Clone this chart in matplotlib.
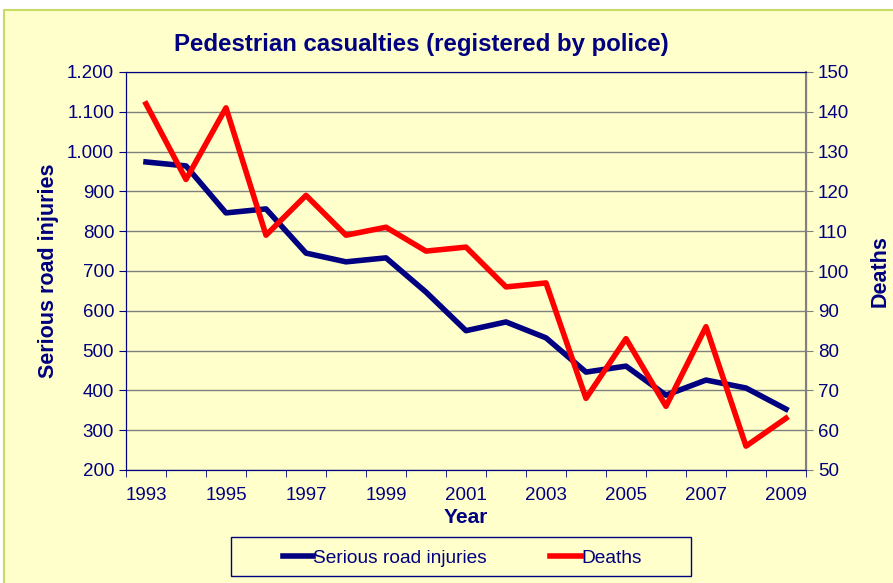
import matplotlib.pyplot as plt
import matplotlib.patches as patches
from matplotlib.ticker import FuncFormatter, FixedLocator

years = list(range(1993, 2010))
injuries = [974, 964, 846, 856, 745, 723, 733, 647, 550, 572, 532, 446, 461, 388, 426, 406, 353]
deaths = [142, 123, 141, 109, 119, 109, 111, 105, 106, 96, 97, 68, 83, 66, 86, 56, 63]

navy = "#000080"
bg = "#FFFFCC"
plt.rcParams['font.family'] = ['Liberation Sans', 'DejaVu Sans']

fig = plt.figure(figsize=(8.93, 5.83), dpi=100)
fig.patch.set_facecolor("white")
# chart area frame
fig.patches.append(patches.Rectangle((4 / 893, -0.01), 1.0, 1 - 10 / 583 + 0.01,
                                     transform=fig.transFigure, facecolor=bg,
                                     edgecolor="#C8DC64", linewidth=1.5, zorder=-10))
# legend frame
fig.patches.append(patches.Rectangle((231 / 893, 1 - 576 / 583), 460 / 893, 39 / 583,
                                     transform=fig.transFigure, facecolor=bg,
                                     edgecolor=navy, linewidth=1, zorder=-5))

ax = fig.add_axes([126 / 893, 1 - 470 / 583, 680 / 893, 398 / 583])
ax.set_facecolor(bg)
ax2 = ax.twinx()

ax.plot(years, injuries, color=navy, lw=4, solid_joinstyle="round", zorder=3)
ax2.plot(years, deaths, color="red", lw=4, solid_joinstyle="round", zorder=3)

ax.set_xlim(1992.5, 2009.5)
ax.set_ylim(200, 1200)
ax2.set_ylim(50, 150)
ax.set_yticks(range(200, 1201, 100))
ax2.set_yticks(range(50, 151, 10))
ax.yaxis.set_major_formatter(FuncFormatter(lambda v, p: "{:,}".format(int(v)).replace(",", ".")))
ax.set_xticks(years[::2])
ax.xaxis.set_minor_locator(FixedLocator([y - 0.5 for y in years] + [2009.5]))
ax.tick_params(axis="x", which="major", length=0, pad=12)
ax.tick_params(axis="x", which="minor", length=5, color=navy)
ax.tick_params(axis="y", length=5, color=navy)
ax2.tick_params(axis="y", length=5, color="#808080")
for a in (ax, ax2):
    a.tick_params(labelsize=13.5, labelcolor=navy)

ax.grid(axis="y", color="#808080", lw=1)
ax.set_axisbelow(True)
for s in ("left", "bottom", "top"):
    ax.spines[s].set_color(navy)
    ax2.spines[s].set_color(navy)
ax2.spines["right"].set_color("#808080")
ax2.spines["right"].set_linewidth(1.5)

ax.set_xlabel("Year", fontsize=15, fontweight="bold", color=navy, labelpad=3)
ax.set_ylabel("Serious road injuries", fontsize=15.5, fontweight="bold", color=navy, labelpad=6)
ax2.set_ylabel("Deaths", fontsize=15.5, fontweight="bold", color=navy, labelpad=15)

fig.text(421 / 893, 1 - 45 / 583, "Pedestrian casualties (registered by police)",
         fontsize=17.3, fontweight="bold", color=navy, ha="center", va="center")

handles = [plt.Line2D([], [], color=navy, lw=4), plt.Line2D([], [], color="red", lw=4)]
leg = fig.legend(handles, ["Serious road injuries", "Deaths"], ncol=2,
                 loc="center", bbox_to_anchor=(462 / 893, 1 - 558 / 583),
                 fontsize=13.8, frameon=False,
                 handlelength=1.6, handletextpad=0.0, columnspacing=3.3)
for t in leg.get_texts():
    t.set_color(navy)

fig.savefig("out.png", dpi=100, facecolor=fig.get_facecolor())
